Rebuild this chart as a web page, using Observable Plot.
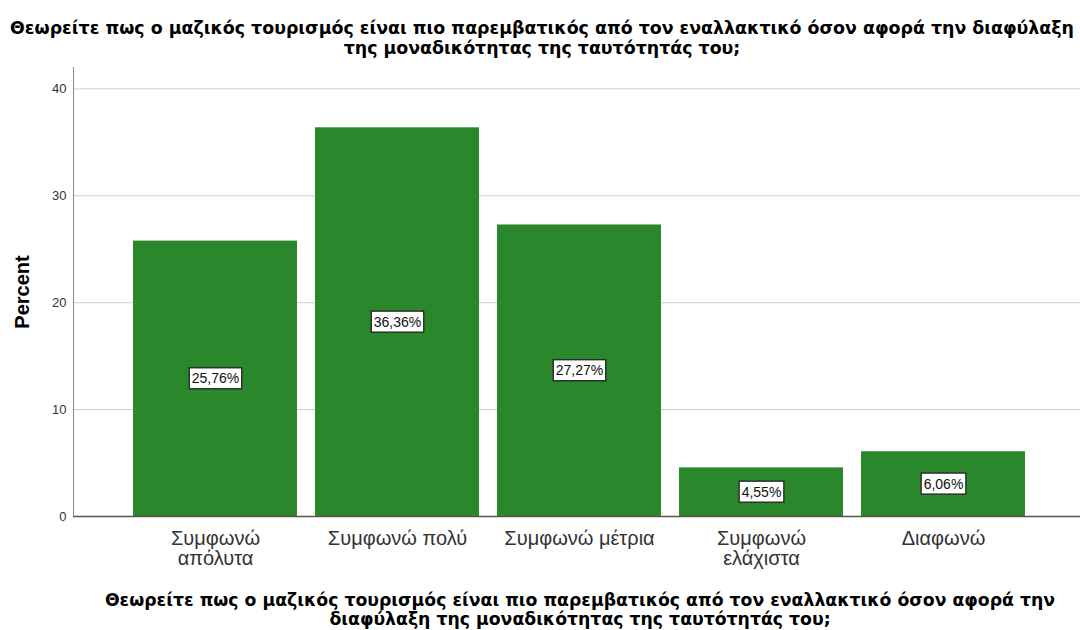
<!DOCTYPE html>
<html>
<head>
<meta charset="utf-8">
<script src="https://cdn.jsdelivr.net/npm/d3@7"></script>
<script src="https://cdn.jsdelivr.net/npm/@observablehq/plot@0.6"></script>
<style>
  body { margin: 0; background: #fff; width: 1080px; height: 630px; overflow: hidden; font-family: "Liberation Sans", Arial, sans-serif; }
  .title { height: 60px; box-sizing: border-box; padding-top: 18px; text-align: center; font-family: "DejaVu Sans", sans-serif; font-weight: bold; font-size: 17.4px; line-height: 20px; color: #000; white-space: nowrap; padding-left: 4px; }
  .xtitle { text-align: center; font-family: "DejaVu Sans", sans-serif; font-weight: bold; font-size: 17.3px; line-height: 19px; color: #000; padding-left: 80px; margin-top: 16px; white-space: nowrap; }
  svg { display: block; }
</style>
</head>
<body>
<div class="title">Θεωρείτε πως ο μαζικός τουρισμός είναι πιο παρεμβατικός από τον εναλλακτικό όσον αφορά την διαφύλαξη<br>της μοναδικότητας της ταυτότητάς του;</div>
<div id="chart"></div>
<div class="xtitle">Θεωρείτε πως ο μαζικός τουρισμός είναι πιο παρεμβατικός από τον εναλλακτικό όσον αφορά την<br>διαφύλαξη της μοναδικότητας της ταυτότητάς του;</div>
<script>
const categories = ["Συμφωνώ απόλυτα", "Συμφωνώ πολύ", "Συμφωνώ μέτρια", "Συμφωνώ ελάχιστα", "Διαφωνώ"];
const percents = [25.76, 36.36, 27.27, 4.55, 6.06];
const tickLabels = ["Συμφωνώ\nαπόλυτα", "Συμφωνώ πολύ", "Συμφωνώ μέτρια", "Συμφωνώ\nελάχιστα", "Διαφωνώ"];
const yTicks = [0, 10, 20, 30, 40];
const yLabel = "Percent";

const data = categories.map((c, i) => ({category: c, value: percents[i]}));
const fmt = v => v.toFixed(2).replace(".", ",") + "%";

const chart = Plot.plot({
  width: 1080,
  height: 515,
  marginLeft: 73,
  marginRight: 0,
  marginTop: 7,
  marginBottom: 59,
  style: {fontFamily: "Liberation Sans, Arial, sans-serif", color: "#222", background: "#fff"},
  x: {domain: categories, paddingInner: 0.1, paddingOuter: 0.31, align: 0.52, label: null},
  y: {domain: [0, 42], ticks: yTicks, label: null},
  marks: [
    Plot.gridY(yTicks.filter(t => t > 0), {stroke: "#cfcfcf", strokeOpacity: 1, strokeWidth: 1}),
    Plot.barY(data, {x: "category", y: "value", fill: "#2b872b"}),
    Plot.frame({anchor: "left", stroke: "#8a8a8a"}),
    Plot.ruleY([0], {stroke: "#555", strokeWidth: 1.5}),
    Plot.axisY({ticks: yTicks, tickSize: 0, tickPadding: 7, fontSize: 13, label: null, fill: "#333"}),
    Plot.axisX({tickSize: 0, tickPadding: 14, fontSize: 20, lineHeight: 1.02, label: null, fill: "#333",
      tickFormat: d => tickLabels[categories.indexOf(d)]}),
    Plot.text(data, {x: "category", y: d => d.value / 2, text: d => fmt(d.value), fontSize: 14, fill: "#111", className: "vlabel"}),
    Plot.text([yLabel], {frameAnchor: "left", textAnchor: "middle", dx: -51, rotate: -90, fontSize: 20, fontWeight: "bold", fill: "#000"})
  ]
});
document.getElementById("chart").append(chart);

// white boxes with black border behind the value labels
chart.querySelectorAll("g.vlabel text").forEach(t => {
  const b = t.getBBox();
  const r = document.createElementNS("http://www.w3.org/2000/svg", "rect");
  r.setAttribute("x", b.x - 2.5);
  r.setAttribute("y", b.y - 2.5);
  r.setAttribute("width", b.width + 5);
  r.setAttribute("height", b.height + 5);
  r.setAttribute("fill", "#fff");
  r.setAttribute("stroke", "#222");
  r.setAttribute("stroke-width", 1.3);
  const tr = t.getAttribute("transform");
  if (tr) r.setAttribute("transform", tr);
  t.parentNode.insertBefore(r, t);
});
</script>
</body>
</html>
